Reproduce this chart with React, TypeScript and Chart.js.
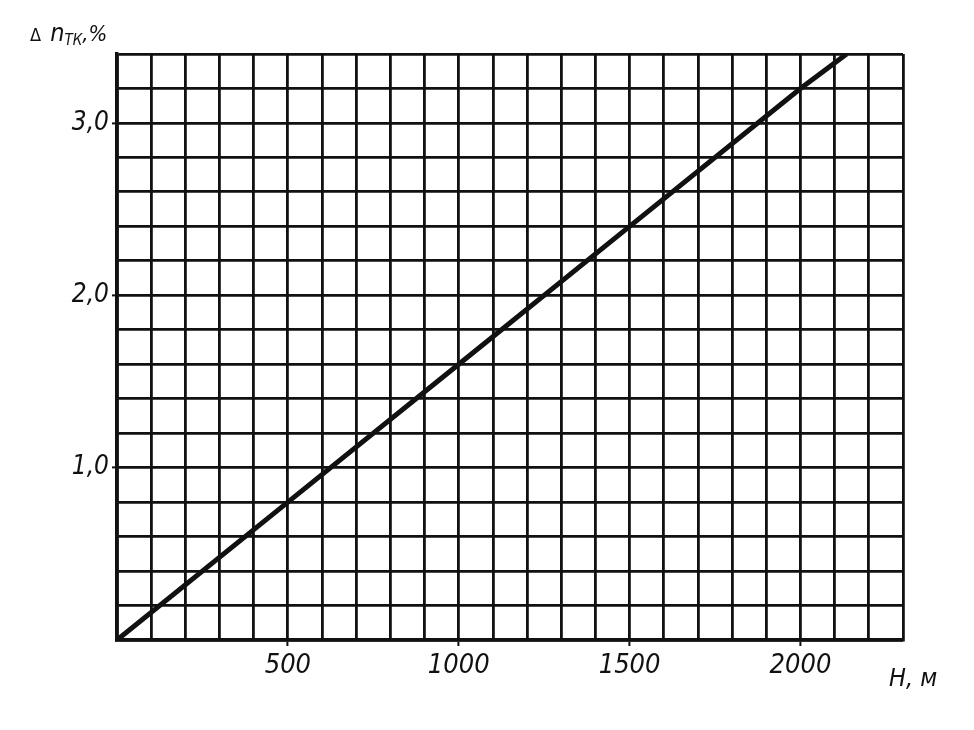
import React, { useEffect, useRef } from "react";
import { Chart, registerables } from "chart.js";

Chart.register(...registerables);

// Data
const heights = [0, 500, 1000, 1500, 2000, 2135];
const deltaN = [0, 0.8, 1.6, 2.4, 3.2, 3.4];
const xTickLabels = [500, 1000, 1500, 2000];
const yTickLabels = [1, 2, 3];

const X_MAX = 2300;
const Y_MAX = 3.4;
const INK = "#111";
const FONT_FAMILY = "'Liberation Sans Narrow', 'DejaVu Sans Condensed', 'Liberation Sans', sans-serif";

const textPlugin = {
  id: "axisTitles",
  afterDraw(chart: any) {
    const { ctx, chartArea } = chart;
    ctx.save();
    ctx.fillStyle = INK;
    ctx.textBaseline = "alphabetic";
    // y axis title: Δ n_ТК, %
    let x = 30;
    const base = 41;
    ctx.font = `18px ${FONT_FAMILY}`;
    ctx.fillText("Δ", x, base);
    x += ctx.measureText("Δ ").width + 4;
    ctx.font = `italic 25px ${FONT_FAMILY}`;
    ctx.fillText("n", x, base);
    x += ctx.measureText("n").width;
    ctx.font = `italic 15px ${FONT_FAMILY}`;
    ctx.fillText("ТК", x, base + 4);
    x += ctx.measureText("ТК").width;
    ctx.font = `italic 22px ${FONT_FAMILY}`;
    ctx.fillText(",%", x, base);
    // x axis title: H, м
    ctx.font = `italic 25px ${FONT_FAMILY}`;
    ctx.fillText("H, м", chartArea.right - 14, chartArea.bottom + 46);
    ctx.restore();
  },
};

export default function App() {
  const canvasRef = useRef<HTMLCanvasElement | null>(null);

  useEffect(() => {
    document.body.style.margin = "0";
    const canvas = canvasRef.current;
    if (!canvas) return;
    const isXLabel = (v: number) => xTickLabels.includes(Math.round(v));
    const isYLabel = (v: number) =>
      Math.abs(v - Math.round(v)) < 1e-6 && yTickLabels.includes(Math.round(v));

    const chart = new Chart(canvas, {
      type: "scatter",
      data: {
        datasets: [
          {
            data: heights.map((h, i) => ({ x: h, y: deltaN[i] })),
            showLine: true,
            borderColor: INK,
            borderWidth: 5,
            pointRadius: 0,
            fill: false,
          },
        ],
      },
      options: {
        animation: false,
        responsive: false,
        layout: { padding: { left: 0, top: 54, right: 71, bottom: 0 } },
        plugins: { legend: { display: false }, tooltip: { enabled: false } },
        scales: {
          x: {
            type: "linear",
            min: 0,
            max: X_MAX,
            afterFit: (s: any) => {
              s.height = 90;
            },
            border: { display: true, color: INK, width: 3.5 },
            grid: {
              color: INK,
              lineWidth: 2.8,
              tickLength: 6,
              tickColor: (c: any) => (c.tick && isXLabel(c.tick.value) ? INK : "rgba(0,0,0,0)"),
              tickWidth: 2,
            },
            ticks: {
              stepSize: 100,
              autoSkip: false,
              maxRotation: 0,
              padding: 4,
              color: INK,
              font: { family: FONT_FAMILY, size: 27, style: "italic" },
              callback: (v: any) => (isXLabel(Number(v)) ? String(Math.round(Number(v))) : ""),
            },
          },
          y: {
            type: "linear",
            min: 0,
            max: Y_MAX,
            afterFit: (s: any) => {
              s.width = 117;
            },
            border: { display: true, color: INK, width: 3.5 },
            grid: {
              color: INK,
              lineWidth: 2.8,
              tickLength: 5,
              tickColor: (c: any) => (c.tick && isYLabel(c.tick.value) ? INK : "rgba(0,0,0,0)"),
              tickWidth: 2,
            },
            ticks: {
              stepSize: 0.2,
              autoSkip: false,
              padding: 3,
              color: INK,
              font: { family: FONT_FAMILY, size: 26, style: "italic" },
              callback: (v: any) =>
                isYLabel(Number(v)) ? Number(v).toFixed(1).replace(".", ",") : "",
            },
          },
        },
      },
      plugins: [textPlugin],
    });
    return () => chart.destroy();
  }, []);

  return (
    <div style={{ width: 974, height: 730, background: "#fff" }}>
      <canvas ref={canvasRef} width={974} height={730} style={{ display: "block" }} />
    </div>
  );
}
